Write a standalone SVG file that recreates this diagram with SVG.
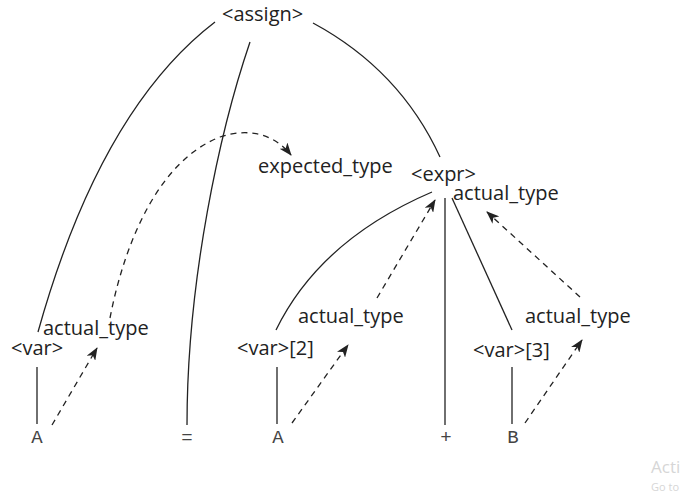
<svg xmlns="http://www.w3.org/2000/svg" width="683" height="495" viewBox="0 0 683 495">
<defs>
<style>
.t{font-family:"Open Sans","Noto Sans","Liberation Sans",sans-serif;font-size:20px;fill:#222}
.m{font-family:"Liberation Mono","DejaVu Sans Mono",monospace;font-size:19px;fill:#444;text-anchor:middle}
.l{fill:none;stroke:#222;stroke-width:1.3}
.d{fill:none;stroke:#222;stroke-width:1.3;stroke-dasharray:6 5;marker-end:url(#ah)}
.wm{font-family:"Open Sans","Liberation Sans",sans-serif;fill:#d6d6d6}
</style>
<marker id="ah" viewBox="0 0 13 10" refX="12" refY="5" markerWidth="13" markerHeight="10" markerUnits="userSpaceOnUse" orient="auto">
<path d="M0,0 L13,5 L0,10 L3.5,5 Z" fill="#222"/>
</marker>
</defs>
<rect width="683" height="495" fill="#fff"/>
<g id="connectors">
<path class="l" d="M215,22 Q100,110 38,332"/>
<path class="l" d="M250,42 C220,130 187,280 187,425"/>
<path class="l" d="M313,23 Q400,70 440,157"/>
<path class="l" d="M432,192 Q320,240 276,330"/>
<path class="l" d="M445,198 L445,425"/>
<path class="l" d="M452,198 L512,330"/>
<path class="l" d="M37,367 L37,424"/>
<path class="l" d="M277,367 L277,424"/>
<path class="l" d="M512,367 L512,424"/>
<path class="d" d="M110,318 C125,240 160,160 220,137 C250,127 275,135 291,155"/>
<path class="d" d="M52,425 L97,348"/>
<path class="d" d="M292,423 L348,345"/>
<path class="d" d="M525,423 L582,340"/>
<path class="d" d="M377,298 L435,200"/>
<path class="d" d="M580,297 L487,212"/>
</g>
<g id="assign"><text class="t" x="222" y="21">&lt;assign&gt;</text></g>
<g id="expected"><text class="t" x="258" y="173">expected_type</text></g>
<g id="expr"><text class="t" x="411" y="181">&lt;expr&gt;</text><text class="t" x="453" y="200">actual_type</text></g>
<g id="var1"><text class="t" x="11" y="355">&lt;var&gt;</text><text class="t" x="43" y="335">actual_type</text></g>
<g id="var2"><text class="t" x="237" y="355">&lt;var&gt;[2]</text><text class="t" x="298" y="323">actual_type</text></g>
<g id="var3"><text class="t" x="473" y="357">&lt;var&gt;[3]</text><text class="t" x="525" y="323">actual_type</text></g>
<g id="leaves">
<text class="m" x="37" y="443">A</text>
<text class="m" x="187" y="443">=</text>
<text class="m" x="278" y="443">A</text>
<text class="m" x="446" y="443">+</text>
<text class="m" x="513" y="443">B</text>
</g>
<text class="wm" x="651" y="473" font-size="17">Acti</text>
<text class="wm" x="651" y="491" font-size="11">Go to</text>
</svg>
